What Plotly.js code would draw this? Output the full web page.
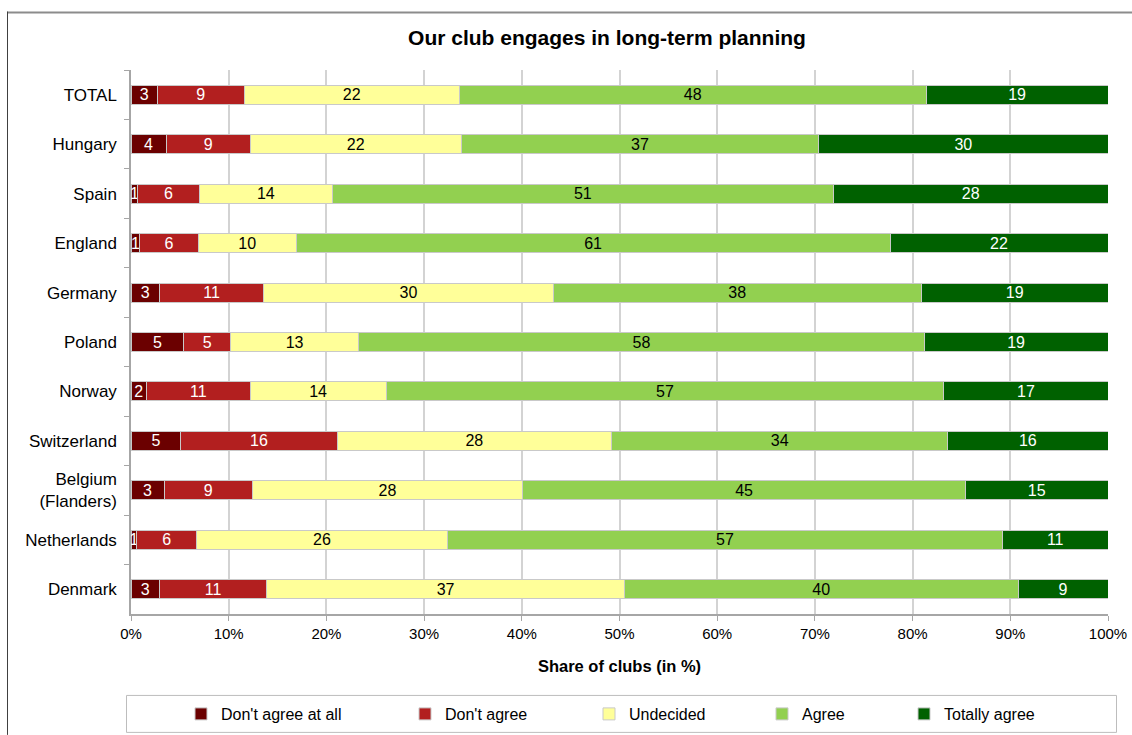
<!DOCTYPE html>
<html>
<head>
<meta charset="utf-8">
<script src="https://cdn.plot.ly/plotly-3.0.1.min.js"></script>
<style>html,body{margin:0;padding:0;background:#fff;}#chart{width:1132px;height:735px;}</style>
</head>
<body>
<div id="chart"></div>
<script>
// ---- data (shares in %) ----
var categories = ['TOTAL','Hungary','Spain','England','Germany','Poland','Norway','Switzerland','Belgium<br>(Flanders)','Netherlands','Denmark'];
var seriesNames = ["Don't agree at all", "Don't agree", 'Undecided', 'Agree', 'Totally agree'];
var dontAgreeAtAll = [2.7, 3.6, 0.7, 0.9, 2.9, 5.4, 1.6, 5.1, 3.4, 0.6, 2.9];
var dontAgree      = [8.9, 8.6, 6.3, 6.0, 10.7, 4.8, 10.6, 16.0, 9.0, 6.1, 11.0];
var undecided      = [22.0, 21.6, 13.6, 10.0, 29.6, 13.1, 13.9, 28.1, 27.7, 25.7, 36.6];
var agree          = [47.8, 36.6, 51.3, 60.8, 37.7, 57.9, 57.1, 34.4, 45.3, 56.8, 40.3];
var totallyAgree   = [18.6, 29.6, 28.1, 22.3, 19.1, 18.8, 16.8, 16.4, 14.6, 10.8, 9.2];
var xTickValues = [0,10,20,30,40,50,60,70,80,90,100];
var xTickLabels = ['0%','10%','20%','30%','40%','50%','60%','70%','80%','90%','100%'];

// ---- styling ----
var W = 1132, H = 735;
var plotL = 131, plotR = 1108, plotT = 69.5, plotB = 614;
var FONT = 'Liberation Sans, Arial, sans-serif';
var colors = ['#6b0000', '#b21f1f', '#ffff99', '#92d050', '#006100'];
var textColors = ['#ffffff', '#ffffff', '#000000', '#000000', '#ffffff'];
var legendTextX = [220, 444, 628, 801, 943];
var seriesData = [dontAgreeAtAll, dontAgree, undecided, agree, totallyAgree];

var traces = seriesData.map(function(vals, i) {
  return {
    type: 'bar',
    orientation: 'h',
    name: seriesNames[i],
    y: categories,
    x: vals,
    legend: i === 0 ? 'legend' : 'legend' + (i + 1),
    marker: {color: colors[i], line: {color: '#c9c9c9', width: 1}},
    texttemplate: '%{x:.0f}',
    textposition: 'inside',
    insidetextanchor: 'middle',
    constraintext: 'none',
    textangle: 0,
    textfont: {family: FONT, size: 16, color: textColors[i]},
    hovertemplate: '%{y}: %{x:.1f}%<extra>' + seriesNames[i] + '</extra>'
  };
});

function px2paperX(px) { return (px - plotL) / (plotR - plotL); }
function px2paperY(py) { return (plotB - py) / (plotB - plotT); }

var layout = {
  width: W, height: H,
  margin: {l: plotL, r: W - plotR, t: plotT, b: H - plotB, pad: 0},
  paper_bgcolor: '#ffffff',
  plot_bgcolor: '#ffffff',
  barmode: 'stack',
  bargap: 0.616,
  font: {family: FONT, color: '#000000'},
  title: {
    text: '<b>Our club engages in long-term planning</b>',
    font: {family: FONT, size: 21, color: '#000000'},
    xref: 'container', x: 607 / W, xanchor: 'center',
    yref: 'container', y: 1 - 38 / H, yanchor: 'middle'
  },
  xaxis: {
    range: [0, 100],
    tickmode: 'array',
    tickvals: xTickValues,
    ticktext: xTickLabels,
    showgrid: true, gridcolor: '#d3d3d3', gridwidth: 1.5,
    zeroline: false,
    showline: true, linecolor: '#a6a6a6', linewidth: 1.5,
    ticks: 'outside', ticklen: 5, tickcolor: '#a6a6a6', tickwidth: 1,
    tickfont: {family: FONT, size: 15, color: '#000000'},
    title: {text: '<b>Share of clubs (in %)</b>', font: {family: FONT, size: 16.5, color: '#000000'}, standoff: 20},
    automargin: false,
    fixedrange: true
  },
  yaxis: {
    type: 'category',
    autorange: 'reversed',
    showgrid: false,
    zeroline: false,
    showline: true, linecolor: '#a6a6a6', linewidth: 1.5,
    ticks: 'outside', ticklen: 5, tickcolor: '#a6a6a6', tickson: 'boundaries',
    ticklabelstandoff: 9,
    tickfont: {family: FONT, size: 17, color: '#000000'},
    automargin: false,
    fixedrange: true
  },
  shapes: [
    // chart frame (top and left edges)
    {type: 'line', xref: 'paper', yref: 'paper', x0: px2paperX(7), x1: px2paperX(W), y0: px2paperY(12), y1: px2paperY(12), line: {color: '#8c8c8c', width: 2}},
    {type: 'line', xref: 'paper', yref: 'paper', x0: px2paperX(7.5), x1: px2paperX(7.5), y0: px2paperY(11), y1: px2paperY(H), line: {color: '#404040', width: 1}},
    // legend box
    {type: 'rect', xref: 'paper', yref: 'paper', x0: px2paperX(126.5), x1: px2paperX(1116.5), y0: px2paperY(695.5), y1: px2paperY(732.5), line: {color: '#bdbdbd', width: 1}, fillcolor: 'rgba(0,0,0,0)'}
  ],
  showlegend: true
};

legendTextX.forEach(function(tx, i) {
  var key = i === 0 ? 'legend' : 'legend' + (i + 1);
  layout[key] = {
    orientation: 'h',
    xref: 'container', x: (tx - 39) / W, xanchor: 'left',
    yref: 'container', y: 1 - 714 / H, yanchor: 'middle',
    bgcolor: 'rgba(0,0,0,0)', borderwidth: 0,
    font: {family: FONT, size: 16, color: '#000000'}
  };
});

Plotly.newPlot('chart', traces, layout, {displayModeBar: false, staticPlot: false});
</script>
</body>
</html>
